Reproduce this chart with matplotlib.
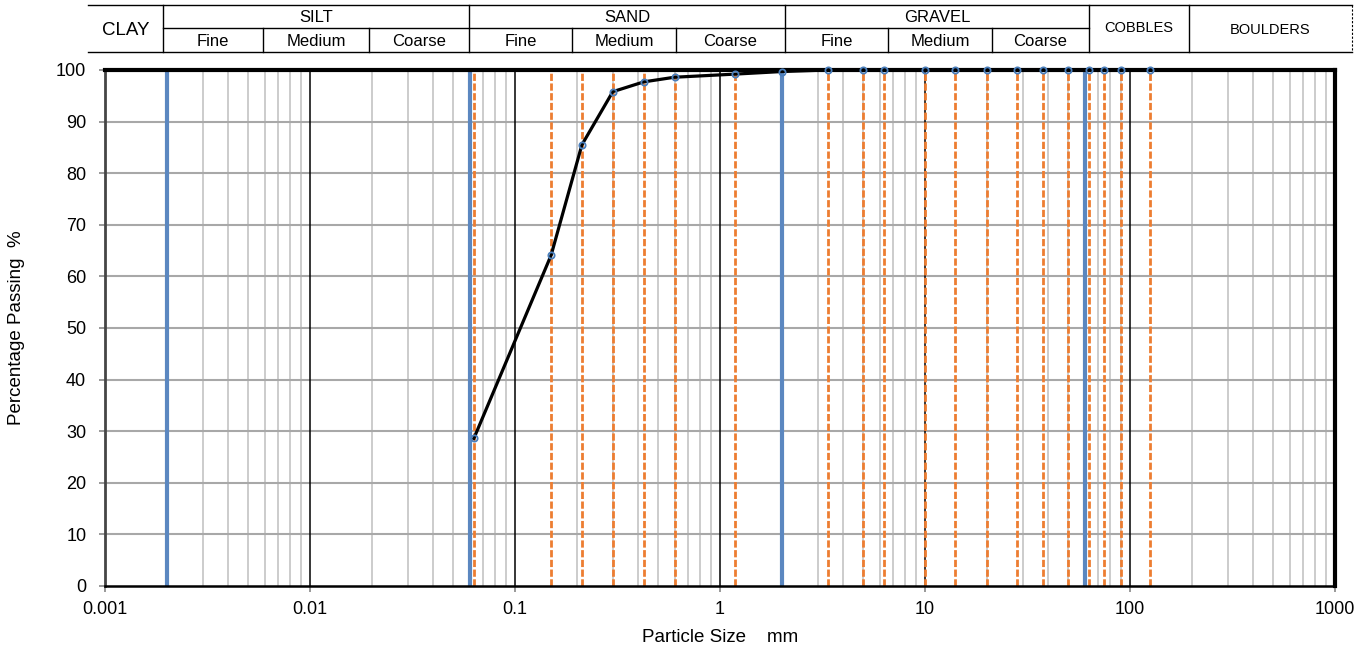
import numpy as np
import matplotlib
matplotlib.use("Agg")
import matplotlib.pyplot as plt
from matplotlib.lines import Line2D

plt.rcParams['font.family'] = ['Liberation Sans', 'DejaVu Sans']

# sieve sizes (mm) and percentage passing
sieve_mm = [0.063, 0.15, 0.212, 0.3, 0.425, 0.6, 1.18, 2, 3.35, 5, 6.3, 10,
            14, 20, 28, 37.5, 50, 63, 75, 90, 125]
passing = [28.6, 64.1, 85.5, 95.8, 97.7, 98.6, 99.2, 99.7, 100, 100, 100, 100,
           100, 100, 100, 100, 100, 100, 100, 100, 100]

# soil class boundaries (mm)
boundaries = [0.002, 0.06, 2, 60]

y_ticks = list(range(0, 101, 10))
x_ticks = [0.001, 0.01, 0.1, 1, 10, 100, 1000]
x_labels = ["0.001", "0.01", "0.1", "1", "10", "100", "1000"]

# header table labels
main_classes = ["SILT", "SAND", "GRAVEL"]
sub_classes = ["Fine", "Medium", "Coarse"]

W, H = 1370, 652
fig = plt.figure(figsize=(W / 100, H / 100), dpi=100)
ax = fig.add_axes([105 / W, 1 - 586 / H, (1335 - 105) / W, (586 - 70) / H])

ax.set_xscale("log")
ax.set_xlim(0.001, 1000)
ax.set_ylim(0, 100)

# gridlines
for dec in range(-3, 3):
    for m in range(2, 10):
        ax.axvline(m * 10.0 ** dec, color="#c4c4c4", lw=1.2, zorder=1)
for d in x_ticks[1:-1]:
    ax.axvline(d, color="black", lw=1.1, zorder=1.5)
for yv in y_ticks[1:-1]:
    ax.axhline(yv, color="#a8a8a8", lw=1.5, zorder=1)

# sieve lines
for s in sieve_mm:
    if s == 2:
        continue
    ax.plot([s, s], [0, 100], color="#ED7D31", lw=2, ls=(0, (2.6, 0.9)), zorder=2)

# boundaries
for b in boundaries:
    ax.axvline(b, color="#5B87C0", lw=3, zorder=2.5)

# grading curve
ax.plot(sieve_mm, passing, color="black", lw=2.3, zorder=3)
ax.plot(sieve_mm, passing, ls="none", marker="o", ms=4.5, mfc="none",
        mec="#4A7EBB", mew=1.3, zorder=4, clip_on=False)

ax.set_xticks(x_ticks)
ax.set_xticklabels(x_labels)
ax.xaxis.set_minor_locator(matplotlib.ticker.NullLocator())
ax.set_yticks(y_ticks)
ax.tick_params(axis="both", labelsize=13, color="#888888", length=4.5, width=1.2)
ax.tick_params(axis="x", pad=6)
ax.tick_params(axis="y", pad=9)

for side in ["top", "right"]:
    ax.spines[side].set_linewidth(3)
ax.spines["bottom"].set_linewidth(1.8)
ax.spines["left"].set_linewidth(2)
ax.spines["left"].set_color("#454545")

ax.set_xlabel("Particle Size    mm", fontsize=13.5, labelpad=8)
ax.set_ylabel("Percentage Passing  %", fontsize=13.5, labelpad=22)

# header table
def fx(px):
    return px / W

def fy(py):
    return 1 - py / H

top, mid, bot = 5, 28, 52
def hline(x0, x1, y, **kw):
    kw.setdefault("lw", 1)
    fig.add_artist(Line2D([fx(x0), fx(x1)], [fy(y), fy(y)], color="black", **kw))

def vline(x, y0, y1, **kw):
    kw.setdefault("lw", 1)
    fig.add_artist(Line2D([fx(x), fx(x)], [fy(y0), fy(y1)], color="black", **kw))

hline(88, 1352, top)
hline(88, 1352, bot)
hline(163, 1089, mid)
vline(163, top, bot)
vline(1089, top, bot)
vline(1189, top, bot)
vline(1352, top, bot, ls=(0, (2, 1.5)), lw=0.8)

main_edges = [163, 469, 785, 1089]
sub_edges = [[163, 263, 369, 469], [469, 572, 676, 785], [785, 888, 992, 1089]]
for i, name in enumerate(main_classes):
    x0, x1 = main_edges[i], main_edges[i + 1]
    if i > 0:
        vline(x0, top, bot)
    fig.text(fx((x0 + x1) / 2), fy((top + mid) / 2 + 1), name, ha="center",
             va="center", fontsize=12)
    edges = sub_edges[i]
    for j, sname in enumerate(sub_classes):
        if j > 0:
            vline(edges[j], mid, bot)
        fig.text(fx((edges[j] + edges[j + 1]) / 2), fy((mid + bot) / 2 + 2), sname,
                 ha="center", va="center", fontsize=12)

fig.text(fx((88 + 163) / 2), fy((top + bot) / 2 + 2), "CLAY", ha="center",
         va="center", fontsize=13.5)
fig.text(fx((1089 + 1189) / 2), fy((top + bot) / 2), "COBBLES", ha="center",
         va="center", fontsize=10.5)
fig.text(fx((1189 + 1352) / 2), fy((top + bot) / 2 + 1), "BOULDERS", ha="center",
         va="center", fontsize=10.5)

fig.savefig("out.png", dpi=100, facecolor="white")
